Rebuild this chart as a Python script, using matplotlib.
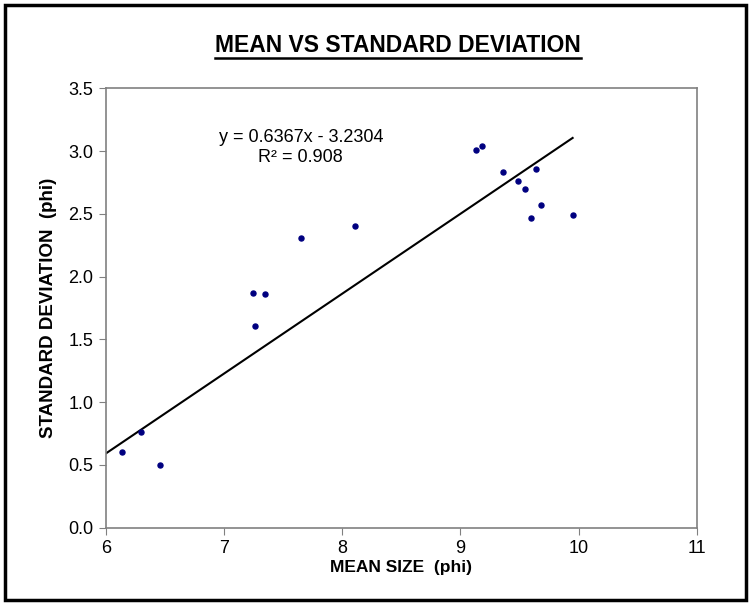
import matplotlib
matplotlib.use('Agg')
import matplotlib.pyplot as plt
from matplotlib.patches import Rectangle
from matplotlib.lines import Line2D

plt.rcParams['font.family'] = ['Liberation Sans', 'DejaVu Sans']

# mean size (phi) vs standard deviation (phi)
mean_size = [6.14, 6.30, 6.46, 7.25, 7.35, 7.26, 7.65, 8.11,
             9.13, 9.18, 9.36, 9.64, 9.49, 9.55, 9.68, 9.60, 9.95]
std_dev = [0.60, 0.76, 0.50, 1.87, 1.86, 1.61, 2.31, 2.40,
           3.01, 3.04, 2.83, 2.86, 2.76, 2.70, 2.57, 2.47, 2.49]

slope = 0.6367
intercept = -3.2304
r_squared = 0.908
line_x = [6.0, max(mean_size)]

x_ticks = [6, 7, 8, 9, 10, 11]
y_ticks = [0.0, 0.5, 1.0, 1.5, 2.0, 2.5, 3.0, 3.5]

fig = plt.figure(figsize=(7.5, 6.05), dpi=100)
ax = fig.add_axes([0.141, 0.128, 0.788, 0.726])

ax.scatter(mean_size, std_dev, s=13, color='#000080', zorder=3)
ax.plot(line_x, [slope * x + intercept for x in line_x], color='black', lw=1.5)

ax.set_xlim(6, 11)
ax.set_ylim(0, 3.5)
ax.set_xticks(x_ticks)
ax.set_yticks(y_ticks)
ax.set_yticklabels([f'{v:.1f}' for v in y_ticks])
for s in ax.spines.values():
    s.set_color('#808080')
    s.set_linewidth(1.2)
ax.tick_params(direction='out', length=5, color='#808080', labelsize=13, pad=4)

ax.set_xlabel('MEAN SIZE  (phi)', fontsize=12.5, fontweight='bold', labelpad=2)
ax.set_ylabel('STANDARD DEVIATION  (phi)', fontsize=13.5, fontweight='bold', labelpad=8)

ax.text(7.65, 3.03, f'y = {slope}x - {abs(intercept)}\nR² = {r_squared}',
        ha='center', va='center', fontsize=13, linespacing=1.25)

title = fig.text(0.531, 0.925, 'MEAN VS STANDARD DEVIATION', ha='center', va='center',
                 fontsize=16.5, fontweight='bold')

# underline the title
fig.canvas.draw()
bb = title.get_window_extent().transformed(fig.transFigure.inverted())
fig.add_artist(Line2D([bb.x0, bb.x1], [bb.y0 - 0.002, bb.y0 - 0.002],
                      transform=fig.transFigure, color='black', lw=1.8))

# chart area border
fig.add_artist(Rectangle((0.006, 0.008), 0.988, 0.984, transform=fig.transFigure,
                         fill=False, edgecolor='black', lw=2.5))

fig.savefig('out.png', dpi=100)
